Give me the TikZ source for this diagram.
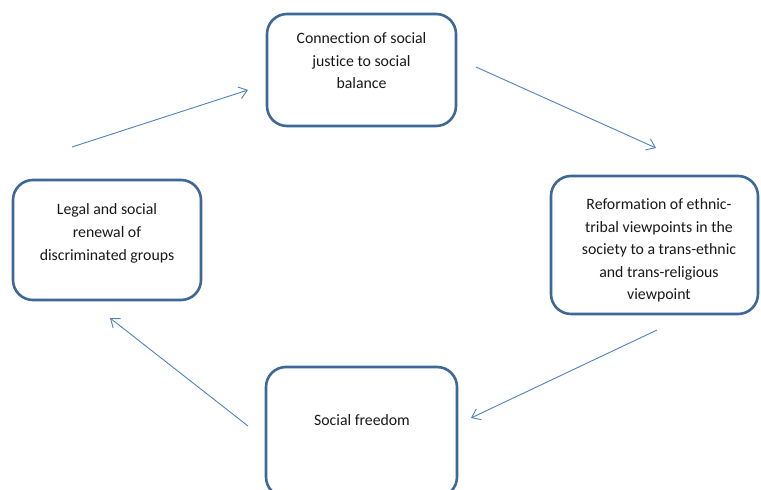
\documentclass[tikz,border=0pt]{standalone}
\usepackage{fontspec}
\setmainfont{Carlito}[Ligatures=NoCommon]
\usetikzlibrary{arrows.meta}
\definecolor{boxline}{RGB}{62,104,150}
\definecolor{arrowline}{RGB}{79,129,189}
\definecolor{txtcol}{RGB}{25,25,25}
\tikzset{
  stagebox/.style={draw=boxline, line width=2.6pt, rounded corners=20pt, fill=white, inner sep=0pt},
  stagetext/.style={anchor=base, align=center, inner sep=0pt, text=txtcol, font=\fontsize{15.8}{22.5}\selectfont},
  cyclearrow/.style={draw=arrowline, line width=0.9pt, -{Straight Barb[length=8pt,width=12pt,line width=0.9pt]}}
}
\begin{document}
\begin{tikzpicture}[x=1pt,y=1pt]
\useasboundingbox (0,0) rectangle (761,490);
\clip (0,0) rectangle (761,490);
% boxes
\node[stagebox, minimum width=189pt, minimum height=112pt] (top) at (361.5,420) {};
\node[stagebox, minimum width=207pt, minimum height=138pt] (right) at (654.5,245) {};
\node[stagebox, minimum width=188pt, minimum height=120pt] (left) at (107,250) {};
\node[stagebox, minimum width=191pt, minimum height=130pt] (bottom) at (361.5,58) {};
% texts (anchored at the baseline of their last line)
\node[stagetext] (toptext) at (361.5,401) {Connection of social\\justice to social\\balance};
\node[stagetext, font=\fontsize{15.8}{22.5}\selectfont] (righttext) at (659,190) {Reformation of ethnic-\\tribal viewpoints in the\\society to a trans-ethnic\\and trans-religious\\viewpoint};
\node[stagetext, font=\fontsize{15.8}{23}\selectfont] (lefttext) at (107,229.5) {Legal and social\\renewal of\\discriminated groups};
\node[stagetext] (bottomtext) at (362,64) {Social freedom};
% arrow end points
\coordinate (a1s) at (72,343);
\coordinate (a1e) at (248,400);
\coordinate (a2s) at (476,423);
\coordinate (a2e) at (656,342);
\coordinate (a3s) at (657,160);
\coordinate (a3e) at (471,72);
\coordinate (a4s) at (248,64);
\coordinate (a4e) at (110,172);
\draw[cyclearrow] (a1s) -- (a1e);
\draw[cyclearrow] (a2s) -- (a2e);
\draw[cyclearrow] (a3s) -- (a3e);
\draw[cyclearrow] (a4s) -- (a4e);
\end{tikzpicture}
\end{document}
